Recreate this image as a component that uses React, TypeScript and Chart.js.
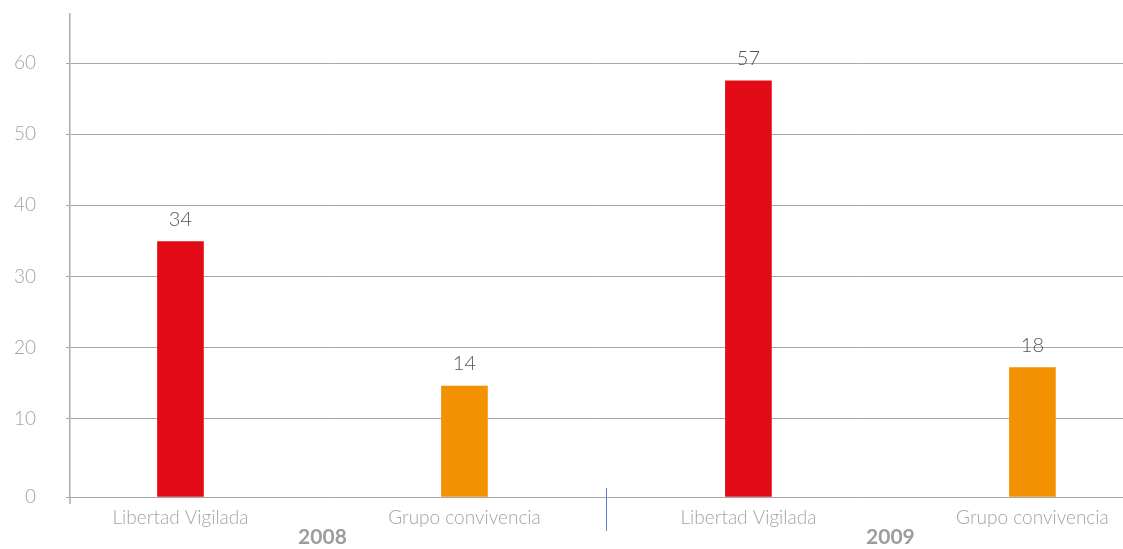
import React, { useEffect, useRef } from "react";
import { Chart, registerables } from "chart.js";

Chart.register(...registerables);

const CATEGORIES = ["Libertad Vigilada", "Grupo convivencia", "Libertad Vigilada", "Grupo convivencia"];
const YEARS = ["2008", "2009"];
const BAR_VALUES = [34.9, 14.6, 57.5, 17.2];
const VALUE_LABELS = ["34", "14", "57", "18"];
const Y_TICK_VALUES = [0, 10, 20, 30, 40, 50, 60];
const Y_TICK_LABELS = ["0", "10", "20", "30", "40", "50", "60"];

const RED = "#e20a17";
const ORANGE = "#f39200";
const BAR_COLORS = [RED, ORANGE, RED, ORANGE];
const Y_MIN = -1;
const Y_MAX = 66.9;
const X_MIN = -0.389;
const X_MAX = 3.319;
const FONT = "Lato, 'Open Sans', sans-serif";

const zeroPad = (s: any) => {
  s.paddingTop = 0;
  s.paddingBottom = 0;
  s.paddingLeft = 0;
  s.paddingRight = 0;
};

const extrasPlugin = {
  id: "extras",
  afterDatasetsDraw(chart: any) {
    const ctx = chart.ctx;
    const area = chart.chartArea;
    const xs = chart.scales.x;
    ctx.save();
    ctx.strokeStyle = "#ababab";
    ctx.lineWidth = 1.5;
    ctx.beginPath();
    ctx.moveTo(area.left, area.bottom);
    ctx.lineTo(area.left, area.bottom + 7);
    ctx.stroke();
    const sx = Math.round(xs.getPixelForValue(1.5)) + 0.5;
    ctx.strokeStyle = "#5b7fd0";
    ctx.lineWidth = 1;
    ctx.beginPath();
    ctx.moveTo(sx, area.bottom - 9);
    ctx.lineTo(sx, area.bottom + 34);
    ctx.stroke();
    const meta = chart.getDatasetMeta(0);
    ctx.fillStyle = "#555555";
    ctx.font = `300 20px ${FONT}`;
    ctx.textAlign = "center";
    ctx.textBaseline = "middle";
    meta.data.forEach((el: any, i: number) => {
      ctx.fillText(VALUE_LABELS[i], el.x, el.y - 22);
    });
    ctx.restore();
  },
};

export default function App() {
  const ref = useRef<HTMLCanvasElement | null>(null);
  useEffect(() => {
    document.body.style.margin = "0";
    if (!ref.current) return;
    const chart = new Chart(ref.current, {
      type: "bar",
      data: {
        datasets: [
          {
            data: BAR_VALUES.map((v, i) => ({ x: i, y: v })),
            backgroundColor: BAR_COLORS,
            barThickness: 46,
            base: Y_MIN,
          } as any,
        ],
      },
      options: {
        animation: false,
        responsive: true,
        maintainAspectRatio: false,
        layout: { padding: { left: 0, right: 0, top: 14, bottom: 0 } },
        plugins: { legend: { display: false }, tooltip: { enabled: false } },
        scales: {
          x: {
            type: "linear",
            position: "bottom",
            min: X_MIN,
            max: X_MAX,
            offset: false,
            grid: { display: false, drawTicks: false, tickLength: 0 },
            border: { display: false },
            afterBuildTicks: (s: any) => {
              s.ticks = CATEGORIES.map((_, i) => ({ value: i }));
            },
            afterFit: (s: any) => {
              s.height = 32;
              zeroPad(s);
            },
            ticks: {
              autoSkip: false,
              maxRotation: 0,
              padding: 9,
              color: "#a3a3a3",
              font: { family: FONT, size: 19, weight: "300" },
              callback: (_v: any, i: number) => CATEGORIES[i],
            },
          },
          x2: {
            type: "linear",
            position: "bottom",
            min: X_MIN,
            max: X_MAX,
            offset: false,
            grid: { display: false, drawTicks: false, tickLength: 0 },
            border: { display: false },
            afterBuildTicks: (s: any) => {
              s.ticks = YEARS.map((_, i) => ({ value: 2 * i + 0.5 }));
            },
            afterFit: (s: any) => {
              s.height = 20;
              zeroPad(s);
            },
            ticks: {
              autoSkip: false,
              maxRotation: 0,
              padding: -2,
              color: "#9c9c9c",
              font: { family: FONT, size: 21, weight: "bold", lineHeight: 1 },
              callback: (_v: any, i: number) => YEARS[i],
            },
          },
          y: {
            min: Y_MIN,
            max: Y_MAX,
            afterBuildTicks: (s: any) => {
              s.ticks = Y_TICK_VALUES.map((v) => ({ value: v === 0 ? Y_MIN : v }));
            },
            afterFit: (s: any) => {
              s.width = 70;
              zeroPad(s);
            },
            grid: { color: "#a8a8a8", lineWidth: 1, tickLength: 4 },
            border: { display: true, color: "#ababab", width: 1.5 },
            ticks: {
              padding: 30,
              color: "#a3a3a3",
              font: { family: FONT, size: 19, weight: "300" },
              callback: (_v: any, i: number) => Y_TICK_LABELS[i],
            },
          },
        },
      },
      plugins: [extrasPlugin],
    } as any);
    return () => chart.destroy();
  }, []);
  return (
    <div style={{ width: 1123, height: 549, position: "relative" }}>
      <canvas ref={ref} />
    </div>
  );
}
